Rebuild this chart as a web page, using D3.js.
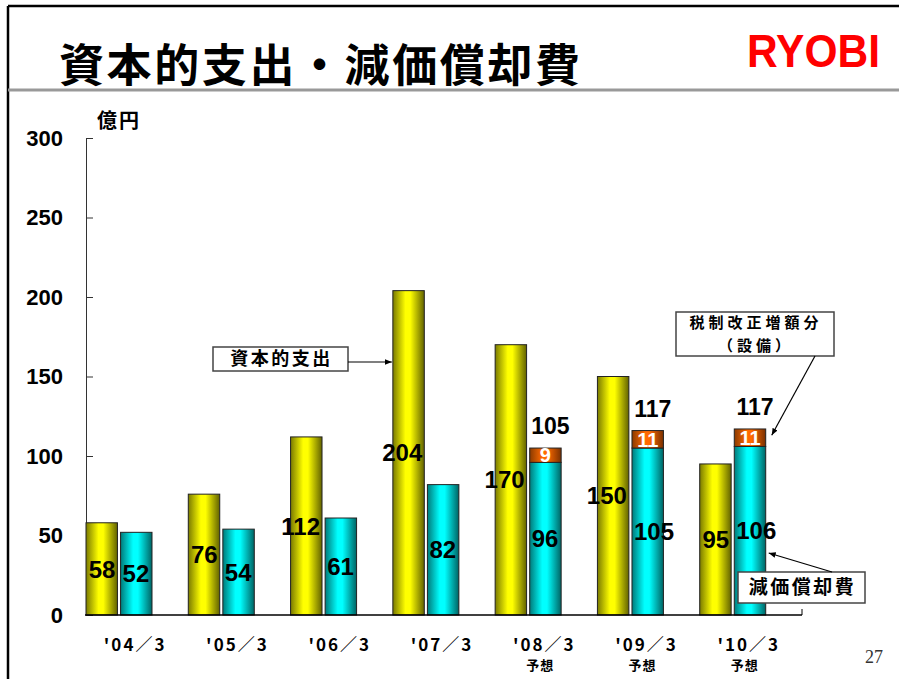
<!DOCTYPE html>
<html>
<head>
<meta charset="utf-8">
<script src="https://cdn.jsdelivr.net/npm/d3@7"></script>
<style>
  body { margin: 0; background: #fff; }
  svg { display: block; }
</style>
</head>
<body>
<svg id="chart" width="899" height="679"></svg>
<script>
const categories = ["'04／3", "'05／3", "'06／3", "'07／3", "'08／3", "'09／3", "'10／3"];
const subLabels = ["", "", "", "", "予想", "予想", "予想"];
const capex = [58, 76, 112, 204, 170, 150, 95];
const depreciation = [52, 54, 61, 82, 96, 105, 106];
const taxIncrease = [0, 0, 0, 0, 9, 11, 11];
const depTotals = [null, null, null, null, 105, 117, 117];
const yTicks = [0, 50, 100, 150, 200, 250, 300];

const svg = d3.select('#chart');
const W = +svg.attr('width');
const H = +svg.attr('height');
const jp = '"Noto Sans CJK JP", sans-serif';
const num = '"Liberation Sans", Arial, sans-serif';

// page frame
svg.append('line').attr('x1', 8).attr('x2', W).attr('y1', 6).attr('y2', 6)
   .attr('stroke', '#000').attr('stroke-width', 2.5);
svg.append('line').attr('x1', 8).attr('x2', 8).attr('y1', 6).attr('y2', H)
   .attr('stroke', '#000').attr('stroke-width', 2.5);
svg.append('line').attr('x1', 8).attr('x2', W).attr('y1', 90).attr('y2', 90)
   .attr('stroke', '#999').attr('stroke-width', 3);

svg.append('text').attr('x', 59).attr('y', 62)
   .attr('dominant-baseline', 'central')
   .style('font-family', jp).style('font-weight', 'bold')
   .style('font-size', '45px').style('letter-spacing', '2.6px')
   .text('資本的支出・減価償却費');

svg.append('text').attr('x', 747).attr('y', 67)
   .attr('textLength', 133).attr('lengthAdjust', 'spacingAndGlyphs')
   .style('font-family', num).style('font-weight', 'bold')
   .style('font-size', '46px').attr('fill', '#ff0000')
   .text('RYOBI');

svg.append('text').attr('x', 874).attr('y', 663).attr('text-anchor', 'middle')
   .style('font-family', '"Liberation Serif", serif').style('font-size', '18px')
   .attr('fill', '#333').text('27');

// scales
const x = d3.scaleBand().domain(categories).range([86, 802]).paddingInner(0).paddingOuter(0);
const x1 = d3.scaleBand().domain(['capex', 'dep']).range([0, 66]).paddingInner(0.09);
const y = d3.scaleLinear().domain([0, 300]).range([615, 138]);

// gradients
const defs = svg.append('defs');
function grad(id, dark, bright, dark2) {
  const g = defs.append('linearGradient').attr('id', id)
    .attr('x1', '0%').attr('x2', '100%').attr('y1', '0%').attr('y2', '0%');
  g.append('stop').attr('offset', '0%').attr('stop-color', dark);
  g.append('stop').attr('offset', '40%').attr('stop-color', bright);
  g.append('stop').attr('offset', '55%').attr('stop-color', bright);
  g.append('stop').attr('offset', '100%').attr('stop-color', dark2);
}
grad('gYel', '#7a7a00', '#ffff00', '#626200');
grad('gCyan', '#007a7a', '#00ffff', '#006464');
grad('gOrg', '#8a3a00', '#ff6a00', '#7a3000');

defs.append('marker').attr('id', 'arrow').attr('viewBox', '0 -5 10 10')
   .attr('refX', 10).attr('markerWidth', 7).attr('markerHeight', 7)
   .attr('orient', 'auto').attr('markerUnits', 'userSpaceOnUse')
   .append('path').attr('d', 'M0,-4L10,0L0,4Z').attr('fill', '#000');

// axes
const yAxis = d3.axisLeft(y).tickValues(yTicks).tickSize(-7).tickPadding(23);
const gy = svg.append('g').attr('transform', 'translate(86,0)').call(yAxis);
gy.select('.domain').attr('stroke', '#333');
gy.selectAll('.tick line').attr('stroke', '#333');
gy.selectAll('.tick text').style('font-family', num).style('font-weight', 'bold')
  .style('font-size', '22px').attr('fill', '#000');

svg.append('text').attr('x', 97).attr('y', 119).attr('dominant-baseline', 'central')
   .style('font-family', jp).style('font-weight', 'bold').style('font-size', '20px')
   .style('letter-spacing', '2px').text('億円');

const idx = d3.range(categories.length);

// bars
const barStroke = '#222';
svg.append('g').selectAll('rect').data(idx).join('rect')
  .attr('x', i => x(categories[i]) + x1('capex'))
  .attr('width', x1.bandwidth())
  .attr('y', i => y(capex[i]))
  .attr('height', i => y(0) - y(capex[i]))
  .attr('fill', 'url(#gYel)').attr('stroke', barStroke).attr('stroke-width', 1);

svg.append('g').selectAll('rect').data(idx).join('rect')
  .attr('x', i => x(categories[i]) + x1('dep'))
  .attr('width', x1.bandwidth())
  .attr('y', i => y(depreciation[i]))
  .attr('height', i => y(0) - y(depreciation[i]))
  .attr('fill', 'url(#gCyan)').attr('stroke', barStroke).attr('stroke-width', 1);

const taxIdx = idx.filter(i => taxIncrease[i] > 0);
svg.append('g').selectAll('rect').data(taxIdx).join('rect')
  .attr('x', i => x(categories[i]) + x1('dep'))
  .attr('width', x1.bandwidth())
  .attr('y', i => y(depreciation[i] + taxIncrease[i]))
  .attr('height', i => y(depreciation[i]) - y(depreciation[i] + taxIncrease[i]))
  .attr('fill', 'url(#gOrg)').attr('stroke', barStroke).attr('stroke-width', 1);

// x axis
svg.append('line').attr('x1', 85).attr('x2', 802).attr('y1', y(0)).attr('y2', y(0))
   .attr('stroke', '#000').attr('stroke-width', 1.5);
svg.append('line').attr('x1', 802).attr('x2', 802).attr('y1', y(0) - 6).attr('y2', y(0))
   .attr('stroke', '#000');

const xl = svg.append('g').selectAll('g').data(idx).join('g');
xl.append('text')
  .attr('x', i => x(categories[i]) + x.bandwidth() / 2 - 2)
  .attr('y', 643).attr('text-anchor', 'middle').attr('dominant-baseline', 'central')
  .style('font-family', jp).style('font-weight', 'bold').style('font-size', '17px')
  .style('letter-spacing', '2px')
  .text(i => categories[i]);
xl.append('text')
  .attr('x', i => x(categories[i]) + x.bandwidth() / 2 - 6)
  .attr('y', 664).attr('text-anchor', 'middle').attr('dominant-baseline', 'central')
  .style('font-family', jp).style('font-weight', 'bold').style('font-size', '13px')
  .style('letter-spacing', '1px')
  .text(i => subLabels[i]);

// value labels
const lblStyle = s => s.style('font-family', num).style('font-weight', 'bold').style('font-size', '24px');

svg.append('g').selectAll('text').data(idx).join('text')
  .attr('x', i => x(categories[i]) + x1('capex') + x1.bandwidth() - 2)
  .attr('y', i => y(capex[i] / 2)).attr('dy', '0.36em')
  .attr('text-anchor', 'end').call(lblStyle)
  .text(i => capex[i]);

svg.append('g').selectAll('text').data(idx).join('text')
  .attr('x', i => x(categories[i]) + x1('dep') + 2)
  .attr('y', i => y(depreciation[i] / 2)).attr('dy', '0.36em')
  .attr('text-anchor', 'start').call(lblStyle)
  .text(i => depreciation[i]);

svg.append('g').selectAll('text').data(taxIdx).join('text')
  .attr('x', i => x(categories[i]) + x1('dep') + x1.bandwidth() / 2)
  .attr('y', i => y(depreciation[i] + taxIncrease[i] / 2)).attr('dy', '0.36em')
  .attr('text-anchor', 'middle').call(lblStyle).style('font-size', '20px')
  .attr('fill', '#fff')
  .text(i => taxIncrease[i]);

svg.append('g').selectAll('text').data(taxIdx).join('text')
  .attr('x', i => x(categories[i]) + x1('dep') + x1.bandwidth() / 2 + 5)
  .attr('y', i => y(depreciation[i] + taxIncrease[i]) - 14)
  .attr('text-anchor', 'middle').call(lblStyle).style('font-size', '23px')
  .text(i => depTotals[i]);

// callouts
function callout(bx, by, bw, bh, lines, fs, ls, lh, from, to) {
  const g = svg.append('g');
  g.append('rect').attr('x', bx).attr('y', by).attr('width', bw).attr('height', bh)
   .attr('fill', '#fff').attr('stroke', '#444').attr('stroke-width', 1.5);
  lines.forEach((s, k) => {
    g.append('text').attr('text-anchor', 'middle')
     .style('font-family', jp).style('font-weight', 'bold').style('font-size', fs + 'px')
     .style('letter-spacing', ls + 'px')
     .attr('x', bx + bw / 2 + 1)
     .attr('y', by + bh / 2 + (k - (lines.length - 1) / 2) * lh)
     .attr('dy', '0.36em').text(s);
  });
  svg.append('line').attr('x1', from[0]).attr('y1', from[1]).attr('x2', to[0]).attr('y2', to[1])
   .attr('stroke', '#000').attr('stroke-width', 1.2).attr('marker-end', 'url(#arrow)');
}

const c07 = categories[3], c10 = categories[6];
callout(213, 347, 135, 24, ['資本的支出'], 18, 2.5, 0,
        [348, 362], [x(c07) + x1('capex') - 1, 362]);
callout(676, 312, 158, 44, ['税制改正増額分', '（設備）'], 15, 4, 23,
        [815, 356], [x(c10) + x1('dep') + x1.bandwidth() + 6, y(113)]);
callout(738, 572, 127, 31, ['減価償却費'], 19, 2.5, 0,
        [832, 572], [x(c10) + x1('dep') + x1.bandwidth() + 3, y(39)]);
</script>
</body>
</html>
